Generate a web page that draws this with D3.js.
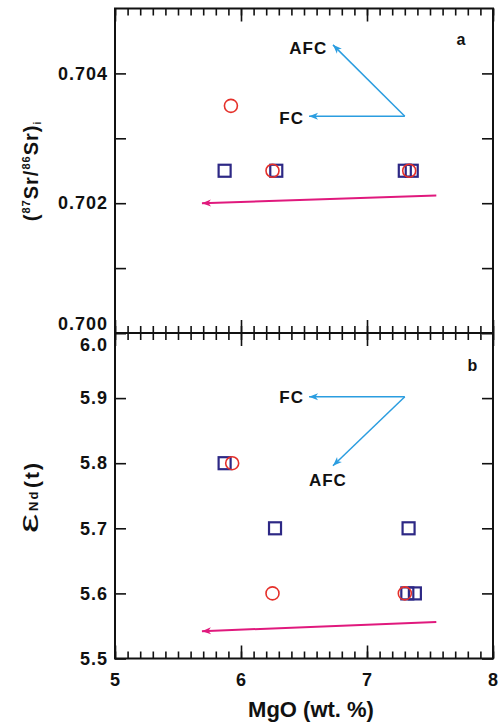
<!DOCTYPE html>
<html>
<head>
<meta charset="utf-8">
<script src="https://cdn.jsdelivr.net/npm/d3@7"></script>
<style>
  body { margin: 0; background: #fff; }
  svg { display: block; font-family: "Liberation Sans", Arial, sans-serif; font-weight: bold; }
</style>
</head>
<body>
<div id="chart"></div>
<script>
// MgO vs (87Sr/86Sr)i and eNd(t)
(function () {
  ///////////////////////////////////////////////////////////// ! Data
  // panel a: Sr isotopes
  const srCircleMgO = [5.92, 6.25, 7.335];
  const srCircleVal = [0.7035, 0.7025, 0.7025];
  const srSquareMgO = [5.87, 6.28, 7.30, 7.355];
  const srSquareVal = [0.7025, 0.7025, 0.7025, 0.7025];

  // panel b: Nd isotopes
  const ndCircleMgO = [5.93, 6.25, 7.30];
  const ndCircleVal = [5.8, 5.6, 5.6];
  const ndSquareMgO = [5.87, 6.27, 7.33, 7.32, 7.38];
  const ndSquareVal = [5.8, 5.7, 5.7, 5.6, 5.6];

  // trend arrows [from, to] in data units
  const srFC = [[7.30, 0.70334], [6.54, 0.70334]];
  const srAFC = [[7.30, 0.70334], [6.73, 0.70444]];
  const srTrend = [[7.55, 0.70212], [5.69, 0.70200]];
  const ndFC = [[7.30, 5.902], [6.54, 5.902]];
  const ndAFC = [[7.30, 5.902], [6.73, 5.796]];
  const ndTrend = [[7.55, 5.556], [5.69, 5.542]];

  // tick values
  const xTicks = [5, 6, 7, 8];
  const srTicks = [0.700, 0.701, 0.702, 0.703, 0.704];
  const srLabels = [0.700, 0.702, 0.704];
  const ndTicks = [5.5, 5.6, 5.7, 5.8, 5.9, 6.0];

  ///////////////////////////////////////////////////////////// ! Setup
  const W = 501, H = 725;
  const left = 115, right = 493, top = 8.5, mid = 333, bottom = 658.5;

  const navy = "#2d2885", red = "#e5302a", blue = "#2b9de0", pink = "#e0197d";

  const svg = d3.select("#chart").append("svg").attr("width", W).attr("height", H);

  const defs = svg.append("defs");
  [["head-blue", blue], ["head-pink", pink]].forEach(([id, c]) => {
    defs.append("marker")
      .attr("id", id)
      .attr("viewBox", "-10 -5 12 10")
      .attr("refX", 0).attr("refY", 0)
      .attr("markerWidth", 12).attr("markerHeight", 10)
      .attr("markerUnits", "userSpaceOnUse")
      .attr("orient", "auto")
      .append("path")
      .attr("d", "M0,0 L-9,-3.5 L-6.5,0 L-9,3.5 Z")
      .attr("fill", c);
  });

  const x = d3.scaleLinear().domain([5, 8]).range([left, right]);
  const ySr = d3.scaleLinear().domain([0.700, 0.705]).range([mid, top]);
  const yNd = d3.scaleLinear().domain([5.5, 6.0]).range([bottom, mid]);
  const minorX = x.ticks(30);

  ///////////////////////////////////////////////////////////// ! Axes helper
  function frame(y, yT, yTop, yBot, showX) {
    const g = svg.append("g");

    // top ticks (pointing down)
    g.append("g").attr("transform", `translate(0,${yTop})`)
      .call(d3.axisTop(x).tickValues(minorX).tickSizeInner(-7).tickSizeOuter(0).tickFormat(""));
    g.append("g").attr("transform", `translate(0,${yTop})`)
      .call(d3.axisTop(x).tickValues(xTicks).tickSizeInner(-13).tickSizeOuter(0).tickFormat(""));

    // bottom ticks (pointing up)
    g.append("g").attr("transform", `translate(0,${yBot})`)
      .call(d3.axisBottom(x).tickValues(minorX).tickSizeInner(-7).tickSizeOuter(0).tickFormat(""));
    g.append("g").attr("class", "xlab").attr("transform", `translate(0,${yBot})`)
      .call(d3.axisBottom(x).tickValues(xTicks).tickSizeInner(-13).tickSizeOuter(0)
        .tickPadding(15).tickFormat(showX ? d3.format("d") : ""));

    // left ticks with labels, right ticks
    g.append("g").attr("class", "ylab").attr("transform", `translate(${left},0)`)
      .call(d3.axisLeft(y).tickValues(yT.values).tickSizeInner(-11).tickSizeOuter(0)
        .tickPadding(7).tickFormat(yT.format));
    g.append("g").attr("transform", `translate(${right},0)`)
      .call(d3.axisRight(y).tickValues(yT.values).tickSizeInner(-11).tickSizeOuter(0).tickFormat(""));

    g.selectAll(".domain").remove();
    g.selectAll(".tick line").attr("stroke", "#111").attr("stroke-width", 1.6);
    g.selectAll(".tick text").attr("fill", "#111").style("font-size", "18px").style("letter-spacing", "1px");

    // frame
    g.append("rect")
      .attr("x", left).attr("y", yTop)
      .attr("width", right - left).attr("height", yBot - yTop)
      .attr("fill", "none").attr("stroke", "#111").attr("stroke-width", 2);
    return g;
  }

  const gSr = frame(ySr, {
    values: srTicks,
    format: (d) => (srLabels.some((v) => Math.abs(v - d) < 1e-9) ? d3.format(".3f")(d) : "")
  }, top, mid, false);
  gSr.selectAll(".ylab .tick text").filter((d) => d === 0.700).attr("dy", "-0.2em");

  const gNd = frame(yNd, { values: ndTicks, format: d3.format(".1f") }, mid, bottom, true);
  gNd.selectAll(".ylab .tick text").filter((d) => d === 6.0).attr("dy", "0.95em");

  ///////////////////////////////////////////////////////////// ! Arrows
  function arrow(seg, y, color, marker, width) {
    svg.append("line")
      .attr("x1", x(seg[0][0])).attr("y1", y(seg[0][1]))
      .attr("x2", x(seg[1][0])).attr("y2", y(seg[1][1]))
      .attr("stroke", color).attr("stroke-width", width)
      .attr("marker-end", `url(#${marker})`);
  }
  arrow(srFC, ySr, blue, "head-blue", 1.5);
  arrow(srAFC, ySr, blue, "head-blue", 1.5);
  arrow(srTrend, ySr, pink, "head-pink", 2);
  arrow(ndFC, yNd, blue, "head-blue", 1.5);
  arrow(ndAFC, yNd, blue, "head-blue", 1.5);
  arrow(ndTrend, yNd, pink, "head-pink", 2);

  ///////////////////////////////////////////////////////////// ! Points
  function squares(mgo, vals, y) {
    svg.append("g").selectAll("rect").data(mgo).enter().append("rect")
      .attr("x", (d) => x(d) - 6).attr("y", (d, i) => y(vals[i]) - 6)
      .attr("width", 12).attr("height", 12)
      .attr("fill", "none").attr("stroke", navy).attr("stroke-width", 2.2);
  }
  function circles(mgo, vals, y) {
    svg.append("g").selectAll("circle").data(mgo).enter().append("circle")
      .attr("cx", (d) => x(d)).attr("cy", (d, i) => y(vals[i]))
      .attr("r", 6.5)
      .attr("fill", "none").attr("stroke", red).attr("stroke-width", 1.6);
  }
  squares(srSquareMgO, srSquareVal, ySr);
  circles(srCircleMgO, srCircleVal, ySr);
  squares(ndSquareMgO, ndSquareVal, yNd);
  circles(ndCircleMgO, ndCircleVal, yNd);

  ///////////////////////////////////////////////////////////// ! Annotations
  function note(txt, px, py, anchor, size) {
    svg.append("text")
      .attr("x", px).attr("y", py)
      .attr("dy", "0.36em")
      .attr("text-anchor", anchor)
      .style("font-size", size + "px")
      .style("letter-spacing", "1px")
      .attr("fill", "#111")
      .text(txt);
  }
  note("AFC", x(6.685), ySr(0.704386), "end", 17);
  note("FC", x(6.50), ySr(0.70332), "end", 17);
  note("a", x(7.75), ySr(0.70453), "middle", 16);
  note("FC", x(6.50), yNd(5.9025), "end", 17);
  note("AFC", x(6.69), yNd(5.774), "middle", 17);
  note("b", x(7.84), yNd(5.95), "middle", 16);

  // x title
  svg.append("text")
    .attr("x", 311).attr("y", 717)
    .attr("text-anchor", "middle")
    .style("font-size", "22px")
    .attr("fill", "#111")
    .text("MgO (wt. %)");

  // y title a
  const tSr = svg.append("text")
    .attr("transform", "translate(38,171) rotate(-90)")
    .attr("text-anchor", "middle")
    .style("font-size", "20px")
    .style("letter-spacing", "1px")
    .attr("fill", "#111");
  tSr.append("tspan").text("(");
  tSr.append("tspan").attr("dy", -8).style("font-size", "11px").text("87");
  tSr.append("tspan").attr("dy", 8).text("Sr/");
  tSr.append("tspan").attr("dy", -8).style("font-size", "11px").text("86");
  tSr.append("tspan").attr("dy", 8).text("Sr)");
  tSr.append("tspan").attr("dy", 3).style("font-size", "10px").text("i");

  // y title b
  const gNdT = svg.append("g").attr("transform", "translate(38,495) rotate(-90)").attr("fill", "#111");
  gNdT.append("text")
    .attr("transform", "translate(-38,0) scale(1.6,1)")
    .style("font-size", "27px")
    .style("font-weight", "normal")
    .text("ε");
  gNdT.append("text")
    .attr("x", -16).attr("y", 0)
    .style("font-size", "13px")
    .style("letter-spacing", "2px")
    .text("Nd");
  gNdT.append("text")
    .attr("x", 7).attr("y", 1)
    .style("font-size", "21px")
    .style("letter-spacing", "2px")
    .text("(t)");
})();
</script>
</body>
</html>
